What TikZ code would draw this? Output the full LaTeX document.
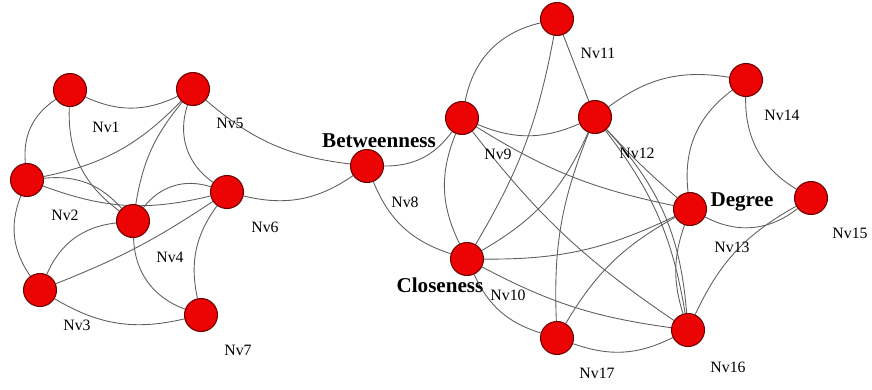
\documentclass[tikz,border=0pt]{standalone}
\usepackage{fontspec}
\setmainfont{Liberation Serif}
\usepackage{tikz}
\usetikzlibrary{backgrounds}
\definecolor{vred}{RGB}{236,4,4}
\definecolor{vrim}{RGB}{110,0,0}
\definecolor{linkgray}{RGB}{95,95,95}
\tikzset{
	vertex/.style={
		circle, draw=vrim, fill=vred, line width=0.6pt,
		minimum size=0.66cm, inner sep=0pt
	},
	nvlabel/.style={font=\fontsize{9}{10}\selectfont, inner sep=0pt},
	measure/.style={font=\fontsize{12}{13}\selectfont\bfseries, inner sep=0pt},
	link/.style={draw=linkgray, line width=0.5pt}
}

\begin{document}
\begin{tikzpicture}[x=0.02cm, y=0.02cm]
				\useasboundingbox (0,0) rectangle (872,-389);
				% left group
				\node[vertex] (v1) at (70,-90) {};
				\node[vertex] (v2) at (27,-180) {};
				\node[vertex] (v3) at (40,-290) {};
				\node[vertex] (v4) at (133,-221) {};
				\node[vertex] (v5) at (193,-89) {};
				\node[vertex] (v6) at (227,-192) {};
				\node[vertex] (v7) at (201,-315) {};
				% bridge and right group
				\node[vertex] (v8) at (367,-166) {};
				\node[vertex] (v9) at (462,-118) {};
				\node[vertex] (v10) at (467,-259) {};
				\node[vertex] (v11) at (557,-19) {};
				\node[vertex] (v12) at (595,-117) {};
				\node[vertex] (v13) at (690,-209) {};
				\node[vertex] (v14) at (746,-80) {};
				\node[vertex] (v15) at (811,-198) {};
				\node[vertex] (v16) at (688,-330) {};
				\node[vertex] (v17) at (557,-338) {};
				% names sit below right of each vertex
				\foreach \i/\dx/\dy in {1/36/37, 2/38/35, 3/37/35, 4/37/36, 5/37/34,
						6/38/35, 7/37/35, 8/38/36, 9/36/36, 10/41/36, 11/41/34, 12/42/36,
						13/42/38, 14/36/35, 15/39/35, 16/40/37, 17/40/35}
					\node[nvlabel] (n\i) at ([shift={(\dx,-\dy)}]v\i) {Nv\i};
				\node[measure] (btw) at ([shift={(12,25)}]v8) {Betweenness};
				\node[measure] (clo) at ([shift={(-27,-26)}]v10) {Closeness};
				\node[measure] (deg) at ([shift={(52,7)}]v13) {Degree};
				\begin{scope}[on background layer]
					\foreach \a/\b/\bend in {v1/v5/25, v1/v2/31, v1/v4/28, v2/v5/17, v5/v4/15,
							v5/v6/37, v5/v8/17, v2/v4/-27, v2/v6/17, v4/v6/-35, v6/v8/24,
							v6/v3/-6, v6/v7/24, v4/v3/30, v4/v7/34, v3/v7/22, v2/v3/28,
							v8/v9/27, v8/v10/25, v9/v11/-33, v9/v10/24, v9/v12/23,
							v9/v13/10, v9/v16/9, v10/v11/10, v10/v12/18, v10/v13/13,
							v10/v16/10, v10/v17/24, v11/v12/0, v12/v14/-23, v12/v13/3,
							v12/v16/-14, v12/v16/-19, v12/v17/12, v13/v14/-30, v13/v15/33,
							v14/v15/30, v15/v16/18, v13/v16/18, v13/v17/15, v16/v17/-23}
						\draw[link] (\a) to[bend right=\bend] (\b);
				\end{scope}
			\end{tikzpicture}
\end{document}
